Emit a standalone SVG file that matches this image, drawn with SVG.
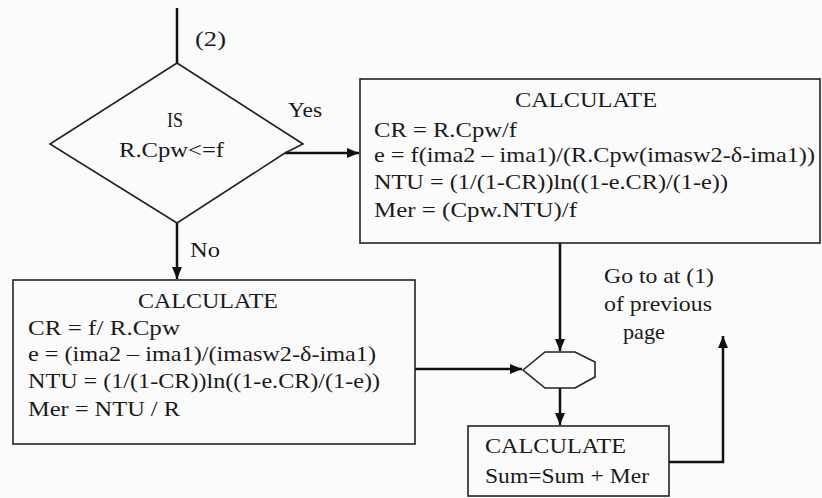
<svg xmlns="http://www.w3.org/2000/svg" width="822" height="498" viewBox="0 0 822 498">
<defs>
<marker id="ah" markerUnits="userSpaceOnUse" markerWidth="13" markerHeight="11" refX="12" refY="5" orient="auto">
<path d="M0,0 L12,5 L0,10 z" fill="#111"/>
</marker>
<style>
text{font-family:"Liberation Serif","Times New Roman",serif;font-size:22px;fill:#1a1a1a}
.box{fill:none;stroke:#222;stroke-width:1.6}
.conn{fill:none;stroke:#111;stroke-width:2.5}
.arr{marker-end:url(#ah)}
</style>
</defs>
<rect width="822" height="498" fill="#fbfbfb"/>

<g id="connectors">
<line class="conn" x1="177" y1="8" x2="177" y2="63"/>
<line class="conn arr" x1="285" y1="153" x2="359" y2="153"/>
<line class="conn arr" x1="177" y1="223" x2="177" y2="279"/>
<line class="conn arr" x1="415" y1="369" x2="522" y2="369"/>
<line class="conn arr" x1="560" y1="243" x2="560" y2="351"/>
<line class="conn arr" x1="560" y1="388" x2="560" y2="425"/>
<polyline class="conn arr" points="669,462 723,462 723,336"/>
<text x="195" y="46" textLength="31" lengthAdjust="spacingAndGlyphs">(2)</text>
<text x="288" y="117" textLength="34" lengthAdjust="spacingAndGlyphs">Yes</text>
<text x="190" y="257" textLength="30" lengthAdjust="spacingAndGlyphs">No</text>
</g>

<g id="decision">
<polygon class="box" stroke-width="1.4" points="177,63 303,144 285,153 177,223 50,144"/>
<text x="167" y="127" textLength="16" lengthAdjust="spacingAndGlyphs">IS</text>
<text x="119" y="157" textLength="105" lengthAdjust="spacingAndGlyphs">R.Cpw&lt;=f</text>
</g>

<g id="calc-yes">
<rect class="box" x="360" y="79" width="460" height="164"/>
<text x="515" y="107" textLength="142" lengthAdjust="spacingAndGlyphs">CALCULATE</text>
<text x="374" y="137" textLength="143" lengthAdjust="spacingAndGlyphs">CR = R.Cpw/f</text>
<text x="374" y="162" textLength="441" lengthAdjust="spacingAndGlyphs">e = f(ima2 – ima1)/(R.Cpw(imasw2-δ-ima1))</text>
<text x="374" y="189" textLength="354" lengthAdjust="spacingAndGlyphs">NTU = (1/(1-CR))ln((1-e.CR)/(1-e))</text>
<text x="374" y="217" textLength="203" lengthAdjust="spacingAndGlyphs">Mer = (Cpw.NTU)/f</text>
</g>

<g id="calc-no">
<rect class="box" x="13" y="280" width="402" height="164"/>
<text x="138" y="308" textLength="140" lengthAdjust="spacingAndGlyphs">CALCULATE</text>
<text x="28" y="335" textLength="152" lengthAdjust="spacingAndGlyphs">CR = f/ R.Cpw</text>
<text x="28" y="361" textLength="348" lengthAdjust="spacingAndGlyphs">e = (ima2 – ima1)/(imasw2-δ-ima1)</text>
<text x="28" y="388" textLength="352" lengthAdjust="spacingAndGlyphs">NTU = (1/(1-CR))ln((1-e.CR)/(1-e))</text>
<text x="28" y="416" textLength="152" lengthAdjust="spacingAndGlyphs">Mer = NTU / R</text>
</g>

<g id="junction">
<polygon class="box" points="523,370 545,352 575,352 595,362 595,377 575,388 545,388"/>
</g>

<g id="calc-sum">
<rect class="box" x="468" y="426" width="201" height="70"/>
<text x="485" y="453" textLength="141" lengthAdjust="spacingAndGlyphs">CALCULATE</text>
<text x="485" y="483" textLength="164" lengthAdjust="spacingAndGlyphs">Sum=Sum + Mer</text>
</g>

<g id="goto-note">
<text x="604" y="283" textLength="110" lengthAdjust="spacingAndGlyphs">Go to at (1)</text>
<text x="604" y="311" textLength="108" lengthAdjust="spacingAndGlyphs">of previous</text>
<text x="623" y="339" textLength="42" lengthAdjust="spacingAndGlyphs">page</text>
</g>
</svg>
